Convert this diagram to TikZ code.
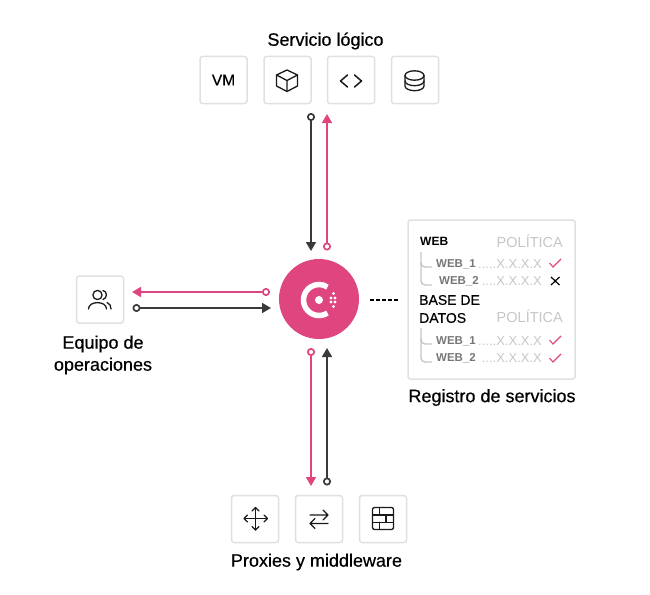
\documentclass[tikz,border=0pt]{standalone}
\usepackage{fontspec}
\setmainfont{Liberation Sans}
\newfontfamily\medio[FakeBold=0.5]{Liberation Sans}
\usetikzlibrary{arrows.meta}
\definecolor{rosa}{HTML}{DF4680}
\definecolor{oscuro}{HTML}{3A3A3A}
\definecolor{borde}{HTML}{E0E0E0}
\definecolor{claro}{HTML}{C6C6C6}
\definecolor{gris}{HTML}{777777}
\tikzset{
  caja/.style={draw=borde,line width=1.5pt,rounded corners=2.5pt,minimum size=47pt,inner sep=0pt,font=\fontsize{15.5}{16}\medio},
  titulo/.style={font=\fontsize{18}{22}\medio,align=center,text=black},
  icono/.style={line width=1.3pt,draw=black!90,line join=round,line cap=round},
  flujo/.style={line width=1.7pt,{Circle[open,fill=white,length=8pt,width=8pt]}-{Triangle[length=9pt,width=10pt]}},
  fila/.style={anchor=west,inner sep=0pt,font=\fontsize{11.5}{14}\selectfont\bfseries,text=gris},
  cabeza/.style={anchor=west,inner sep=0pt,font=\fontsize{14}{18}\medio,text=black,align=left},
  politica/.style={anchor=east,inner sep=0pt,font=\fontsize{14.5}{16}\selectfont,text=claro},
  punto/.style={anchor=east,inner sep=0pt,font=\fontsize{13}{16}\selectfont,text=claro},
  rama/.style={line width=1.4pt,draw=claro,rounded corners=4pt}
}
\begin{document}
\begin{tikzpicture}[x=1pt,y=-1pt]
	\useasboundingbox (0,0) rectangle (650,594);
	% logico
	\node(srv) [titulo] at (325.5,41) {Servicio lógico};
	\node(vm)   [caja] at (223.5,80) {VM};
	\node(cubo) [caja] at (287.5,80) {};
	\node(cod)  [caja] at (351,80) {};
	\node(bd)   [caja] at (415,80) {};
	\draw[icono] (287,70) -- (297.5,75) -- (297.5,86) -- (287,91.5) -- (276.5,86) -- (276.5,75) -- cycle;
	\draw[icono] (276.5,75) -- (287,80.5) -- (297.5,75) (287,80.5) -- (287,91.5);
	\draw[icono,line width=1.5pt] (347.5,75) -- (340.5,81) -- (347.5,87);
	\draw[icono,line width=1.5pt] (354.5,75) -- (361.5,81) -- (354.5,87);
	\draw[icono] (405,75.5) arc[start angle=180,end angle=-180,x radius=9.5,y radius=4.7];
	\draw[icono] (405,75.5) -- (405,86) arc[start angle=180,end angle=0,x radius=9.5,y radius=4.7] -- (424,75.5);
	\draw[icono] (405,81) arc[start angle=180,end angle=0,x radius=9.5,y radius=4.7];
	% consul
	\node(cs) [circle,fill=rosa,minimum size=80pt,inner sep=0pt] at (319,299) {};
	\draw[white,line width=5.5pt] (319,300) ++(57:15.5) arc[start angle=57,end angle=303,radius=15.5];
	\fill[white] (319,300) circle (4pt);
	\foreach \px/\py in {331/298,331/302,335/298,335/302,333.5/293.5,333.5/306.5}
		\fill[white] (\px,\py) circle (1.7pt);
	% flechas
	\coordinate(a1) at (311,113);
	\coordinate(a2) at (311,251);
	\coordinate(b1) at (327,250.5);
	\coordinate(b2) at (327,114);
	\coordinate(c1) at (270,292);
	\coordinate(c2) at (132,292);
	\coordinate(d1) at (132.5,308);
	\coordinate(d2) at (271,308);
	\coordinate(e1) at (311,348);
	\coordinate(e2) at (311,486);
	\coordinate(f1) at (327,485.5);
	\coordinate(f2) at (327,348);
	\draw[flujo,oscuro] (a1) -- (a2);
	\draw[flujo,rosa] (b1) -- (b2);
	\draw[flujo,rosa] (c1) -- (c2);
	\draw[flujo,oscuro] (d1) -- (d2);
	\draw[flujo,rosa] (e1) -- (e2);
	\draw[flujo,oscuro] (f1) -- (f2);
	% equipo
	\node(eq) [caja] at (100,299.5) {};
	\node(eqt) [titulo] at (103,355) {Equipo de\\operaciones};
	\draw[icono] (97.5,295) circle (4.6pt);
	\draw[icono] (88.5,309) .. controls (88.5,300.5) and (106.5,300.5) .. (106.5,309);
	\draw[icono] (103,290.5) .. controls (107.5,291) and (107.5,298.5) .. (103,299.5);
	\draw[icono] (107,302.5) .. controls (110,303.5) and (111,306) .. (111,309);
	% registro
	\node(reg) [draw=borde,line width=1.5pt,rounded corners=2.5pt,minimum width=167pt,minimum height=159pt,inner sep=0pt] at (491.5,299.5) {};
	\node(regt) [titulo] at (492,397.5) {Registro de servicios};
	\coordinate(l1) at (370,300);
	\coordinate(l2) at (398,300);
	\draw[line width=1.5pt,black,dash pattern=on 3.5pt off 2.5pt] (l1) -- (l2);
	\node(web) [cabeza,font=\fontsize{12}{14}\selectfont\bfseries] at (420,241) {WEB};
	\node(po1) [politica] at (563,241) {POLÍTICA};
	\node(w1) [fila] at (436,264) {WEB\_1};
	\node(d1t) [punto] at (542,264) {.....X.X.X.X};
	\node(w2) [fila] at (439,281.5) {WEB\_2};
	\node(d2t) [punto] at (542,281.5) {....X.X.X.X};
	\node(bdt) [cabeza] at (419,309) {BASE DE\\DATOS};
	\node(po2) [politica] at (563,316) {POLÍTICA};
	\node(w3) [fila] at (436,341) {WEB\_1};
	\node(d3t) [punto] at (542,341) {.....X.X.X.X};
	\node(w4) [fila] at (436,358.5) {WEB\_2};
	\node(d4t) [punto] at (542,358.5) {....X.X.X.X};
	\draw[rama] (421,252) |- (432,285);
	\draw[rama] (421,262) |- (432,267);
	\draw[rama] (421,328) |- (432,362);
	\draw[rama] (421,338) |- (432,344);
	\draw[line width=1.1pt,rosa] (549.5,263) -- (553,267) -- (561,259);
	\draw[line width=1.1pt,rosa] (549.5,340) -- (553,344) -- (561,336);
	\draw[line width=1.1pt,rosa] (549.5,358) -- (553,362) -- (561,354);
	\draw[line width=1.2pt,black] (551,277) -- (559.5,285) (559.5,277) -- (551,285);
	% proxies
	\node(mv)  [caja] at (255,519) {};
	\node(sw)  [caja] at (319,519) {};
	\node(fw)  [caja] at (383,519) {};
	\node(prx) [titulo] at (316.5,562) {Proxies y middleware};
	\draw[icono] (244.5,518.5) -- (267,518.5) (255.5,507.5) -- (255.5,530);
	\draw[icono] (247.5,515) -- (244,518.5) -- (247.5,522) (264,515) -- (267.5,518.5) -- (264,522);
	\draw[icono] (252,511) -- (255.5,507.5) -- (259,511) (252,526.5) -- (255.5,530) -- (259,526.5);
	\draw[icono] (310,515) -- (328,515) (323,510) -- (328,515) -- (323,520);
	\draw[icono] (328,523.5) -- (310,523.5) (315,518.5) -- (310,523.5) -- (315,528.5);
	\draw[icono,rounded corners=2pt] (372.5,507.5) rectangle (393.5,529.5);
	\draw[icono] (372.5,515) -- (393.5,515) (372.5,522.3) -- (393.5,522.3);
	\draw[icono] (379.3,507.5) -- (379.3,515) (386,515) -- (386,522.3) (379.3,522.3) -- (379.3,529.5);
\end{tikzpicture}
\end{document}
